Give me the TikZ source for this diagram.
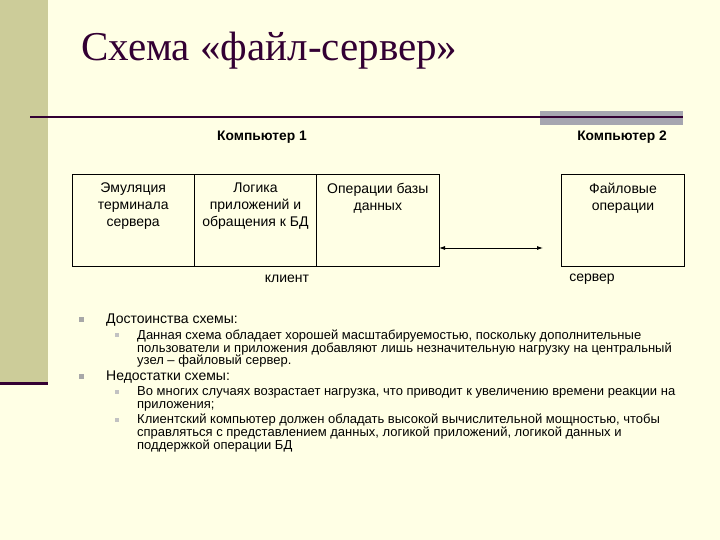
\documentclass[tikz,border=0pt]{standalone}
\usepackage{fontspec}
\setmainfont{Liberation Sans}
\newfontfamily\titlefont{Liberation Serif}
\usetikzlibrary{positioning,arrows.meta}
\definecolor{slidebg}{HTML}{FFFFE5}
\definecolor{sidebar}{HTML}{CCCC99}
\definecolor{plum}{HTML}{330033}
\definecolor{bargray}{HTML}{A6A6B0}
\definecolor{dotgray}{HTML}{A8A8A8}
\newcommand{\tightlines}{\lineskiplimit=-6pt\relax}

\tikzset{
  cell/.style={draw=black, line width=1pt, minimum width=122.33pt,
    minimum height=91pt, inner sep=0pt, outer sep=0pt},
  celltext/.style={anchor=north, align=center, inner sep=0pt,
    font=\fontsize{14}{16.7}\selectfont},
  plain/.style={inner sep=0pt, font=\fontsize{14}{16}\selectfont},
  head/.style={inner sep=0pt, font=\bfseries\fontsize{13.8}{16}\selectfont},
  topitem/.style={anchor=base west, inner sep=0pt, font=\fontsize{14}{14}\selectfont},
  subitem/.style={anchor=north west, align=left, inner sep=0pt,
    font=\fontsize{13}{12.8}\selectfont\tightlines},
  link/.style={line width=0.8pt, {Latex[length=6pt,width=4pt]}-{Latex[length=6pt,width=4pt]}}
}
\newcommand{\topdot}[1]{\fill[dotgray] (#1) ++(-2.5,-2.5) rectangle ++(5,5);}
\newcommand{\subdot}[1]{\fill[dotgray!70] (#1) ++(-2,-2) rectangle ++(4,4);}

\begin{document}
\begin{tikzpicture}[x=1pt, y=-1pt]
    \useasboundingbox (0,0) rectangle (720,540);
    % slide background and side bar
    \fill[slidebg] (0,0) rectangle (720,540);
    \fill[sidebar] (0,0) rectangle (48,383);
    \fill[plum] (0,382) rectangle (48,385);
    \fill[bargray] (540,111) rectangle (683,125);
    \fill[plum] (30,116) rectangle (683,118.5);

    \node[anchor=base west, inner sep=0pt, text=plum,
      font=\titlefont\fontsize{41}{41}\selectfont] (title) at (81,61) {Схема «файл-сервер»};

    \node[head] (comp1) at (262,137) {Компьютер 1};
    \node[head] (comp2) at (622,137) {Компьютер 2};

    % client side
    \node[cell] (emul) at (133.17,220.5) {};
    \node[cell, right=0pt of emul] (logic) {};
    \node[cell, right=0pt of logic] (dbops) {};
    % server side
    \node[cell] (fileops) at (623,220.5) {};

    \node[celltext, below=8pt of emul.north] (emultxt) {Эмуляция\\терминала\\сервера};
    \node[celltext, below=8pt of logic.north] (logictxt) {Логика\\приложений и\\обращения к БД};
    \node[celltext, below=8pt of dbops.north] (dbopstxt) {Операции базы\\данных};
    \node[celltext, below=8pt of fileops.north] (filetxt) {Файловые\\операции};

    \coordinate (linkR) at (543,248);
    \draw[link] (linkR -| dbops.east) -- (linkR);

    \node[plain] (client) at (287,279) {клиент};
    \node[plain] (server) at (592,279) {сервер};

    % pros and cons
    \topdot{81,319}
    \node[topitem] (pros) at (106,323) {Достоинства схемы:};
    \subdot{117,335}
    \node[subitem] (pro1) at (137,329.5) {\strut Данная схема обладает хорошей масштабируемостью, поскольку дополнительные\\
      пользователи и приложения добавляют лишь незначительную нагрузку на центральный\\
      узел – файловый сервер.};
    \topdot{81,376}
    \node[topitem] (cons) at (106,380) {Недостатки схемы:};
    \subdot{117,392}
    \node[subitem] (con1) at (137,386.5) {\strut Во многих случаях возрастает нагрузка, что приводит к увеличению времени реакции на\\
      приложения;};
    \subdot{117,420}
    \node[subitem] (con2) at (137,414) {\strut Клиентский компьютер должен обладать высокой вычислительной мощностью, чтобы\\
      справляться с представлением данных, логикой приложений, логикой данных и\\
      поддержкой операции БД};
\end{tikzpicture}
\end{document}
